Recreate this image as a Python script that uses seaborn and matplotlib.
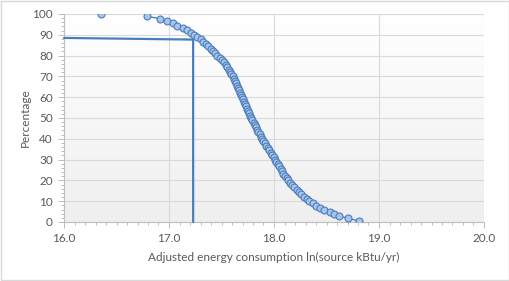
import numpy as np
import pandas as pd
import matplotlib
matplotlib.use("Agg")
import matplotlib.pyplot as plt
from matplotlib.ticker import MultipleLocator
from matplotlib.patches import Rectangle
import seaborn as sns

# outlier point (drawn without a connecting line)
lone_x = [16.35]
lone_y = [100.0]

# main cumulative curve
energy = [16.79, 16.91, 16.98, 17.04, 17.08, 17.13, 17.17, 17.21, 17.24, 17.27,
          17.30, 17.32, 17.35, 17.37, 17.40, 17.42, 17.44, 17.46, 17.485, 17.505,
          17.525, 17.54, 17.555, 17.57, 17.58, 17.595, 17.605, 17.615, 17.625, 17.635,
          17.645, 17.655, 17.665, 17.675, 17.685, 17.695, 17.705, 17.715, 17.725, 17.735,
          17.745, 17.755, 17.765, 17.775, 17.785, 17.795, 17.805, 17.815, 17.827, 17.84,
          17.852, 17.864, 17.876, 17.888, 17.90, 17.914, 17.927, 17.94, 17.955, 17.97,
          17.985, 17.998, 18.01, 18.022, 18.036, 18.049, 18.062, 18.076, 18.09, 18.105,
          18.12, 18.137, 18.155, 18.175, 18.195, 18.215, 18.237, 18.26, 18.284, 18.31,
          18.337, 18.367, 18.40, 18.44, 18.48, 18.53, 18.57, 18.62, 18.70, 18.81]
percent = [98.9, 97.8, 96.7, 95.5, 94.4, 93.3, 92.2, 91.1, 90.0, 88.9,
           87.8, 86.7, 85.6, 84.4, 83.3, 82.2, 81.1, 80.0, 78.9, 77.8,
           76.7, 75.6, 74.4, 73.3, 72.2, 71.1, 70.0, 68.9, 67.8, 66.7,
           65.6, 64.4, 63.3, 62.2, 61.1, 60.0, 58.9, 57.8, 56.7, 55.6,
           54.4, 53.3, 52.2, 51.1, 50.0, 48.9, 47.8, 46.7, 45.6, 44.4,
           43.3, 42.2, 41.1, 40.0, 38.9, 37.8, 36.7, 35.6, 34.4, 33.3,
           32.2, 31.1, 30.0, 28.9, 27.8, 26.7, 25.6, 24.4, 23.3, 22.2,
           21.1, 20.0, 18.9, 17.8, 16.7, 15.6, 14.4, 13.3, 12.2, 11.1,
           10.0, 8.9, 7.8, 6.6, 5.6, 4.6, 4.0, 2.9, 1.8, 0.5]

# guide line: horizontal to the curve then down to the axis
guide_x = [16.0, 17.23, 17.23]
guide_y = [88.5, 87.7, 0.0]

x_ticks = [16.0, 17.0, 18.0, 19.0, 20.0]
y_ticks = [0, 10, 20, 30, 40, 50, 60, 70, 80, 90, 100]

sns.set_style("white")
plt.rcParams['font.family'] = ['Lato', 'DejaVu Sans']

fig = plt.figure(figsize=(5.1, 2.81), dpi=100)
ax = fig.add_axes([64 / 510, 1 - 222 / 281, 420 / 510, 208 / 281])

# plot-area gradient like the spreadsheet default
grad = np.linspace(1.0, 0.0, 256).reshape(-1, 1)
ax.imshow(grad, extent=[16, 20, 0, 100], aspect='auto', zorder=0,
          cmap=matplotlib.colors.LinearSegmentedColormap.from_list('g', ['#efefef', '#ffffff']),
          origin='upper')

df = pd.DataFrame({'energy': energy, 'percent': percent})
mk = dict(marker='o', markersize=5.0, markerfacecolor='#a9c4eb',
          markeredgecolor='#4a7ebb', markeredgewidth=0.8)
sns.lineplot(data=df, x='energy', y='percent', sort=False, color='#4a7ebb',
             linewidth=1.0, ax=ax, zorder=4, **mk)
ax.plot(lone_x, lone_y, linestyle='none', zorder=4, **mk)
ax.plot(guide_x, guide_y, color='#4a7ebb', linewidth=1.6, zorder=3, clip_on=False)

ax.set_xlim(16, 20)
ax.set_ylim(0, 100)
ax.set_xticks(x_ticks)
ax.set_xticklabels([f"{v:.1f}" for v in x_ticks])
ax.set_yticks(y_ticks)
ax.xaxis.set_minor_locator(MultipleLocator(0.1))
ax.yaxis.set_minor_locator(MultipleLocator(2))
ax.grid(True, which='major', color='#d9d9d9', linewidth=0.8)
ax.set_axisbelow(True)

for side in ['top', 'right']:
    ax.spines[side].set_visible(False)
for side in ['left', 'bottom']:
    ax.spines[side].set_color('#bfbfbf')
    ax.spines[side].set_linewidth(0.8)
    ax.spines[side].set_zorder(2)

ax.tick_params(which='both', direction='out', color='#bfbfbf', labelcolor='#595959',
               labelsize=8.5, width=0.7)
ax.tick_params(which='major', length=4, pad=4)
ax.tick_params(which='minor', length=2.5)
ax.tick_params(axis='x', which='both', bottom=True)
ax.tick_params(axis='y', which='both', left=True)

ax.set_xlabel('Adjusted energy consumption ln(source kBtu/yr)', fontsize=8.5,
              color='#595959', labelpad=6)
ax.set_ylabel('Percentage', fontsize=8.5, color='#595959', labelpad=1)

fig.patches.append(Rectangle((0.002, 0.003), 0.996, 0.994, transform=fig.transFigure,
                             fill=False, edgecolor='#d9d9d9', linewidth=1.0))

fig.savefig('out.png', dpi=100)
